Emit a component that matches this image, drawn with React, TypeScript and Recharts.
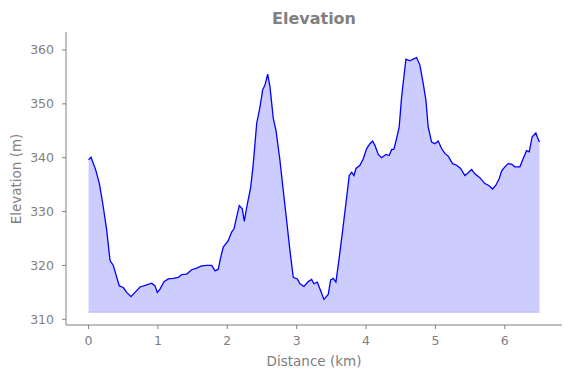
import React from 'react';
import { AreaChart, Area, XAxis, YAxis, ReferenceLine } from 'recharts';

const distanceKm = [
  0, 0.036, 0.104, 0.156, 0.205, 0.262, 0.31, 0.357, 0.406, 0.444, 0.501, 0.55, 0.612, 0.67, 0.742,
  0.839, 0.911, 0.958, 0.991, 1.03, 1.088, 1.15, 1.222, 1.294, 1.343, 1.415, 1.487, 1.559, 1.631,
  1.703, 1.775, 1.823, 1.87, 1.905, 1.942, 2.014, 2.063, 2.097, 2.135, 2.173, 2.216, 2.245, 2.28,
  2.337, 2.375, 2.424, 2.471, 2.51, 2.543, 2.582, 2.615, 2.663, 2.702, 2.759, 2.807, 2.856, 2.903,
  2.951, 3.009, 3.048, 3.105, 3.167, 3.216, 3.249, 3.297, 3.346, 3.393, 3.455, 3.49, 3.527, 3.566,
  3.614, 3.663, 3.71, 3.758, 3.793, 3.826, 3.855, 3.912, 3.96, 4.009, 4.056, 4.095, 4.128, 4.176,
  4.225, 4.287, 4.334, 4.369, 4.402, 4.441, 4.478, 4.513, 4.575, 4.633, 4.68, 4.729, 4.777, 4.824,
  4.863, 4.896, 4.945, 4.993, 5.04, 5.089, 5.137, 5.184, 5.248, 5.305, 5.363, 5.425, 5.473, 5.522,
  5.569, 5.641, 5.713, 5.775, 5.824, 5.872, 5.919, 5.954, 6.001, 6.049, 6.098, 6.146, 6.218, 6.265,
  6.314, 6.352, 6.395, 6.448, 6.473, 6.5,
];

const elevationM = [
  339.6, 340.1, 337.7, 335.2, 331.5, 326.5, 320.9, 320, 317.8, 316.2, 315.9, 315, 314.2, 315, 316,
  316.4, 316.7, 316.2, 315, 315.6, 317, 317.5, 317.6, 317.8, 318.3, 318.4, 319.2, 319.5, 319.9,
  320, 320, 319, 319.3, 321.5, 323.4, 324.6, 326.2, 326.8, 329, 331.1, 330.5, 328.2, 330.8,
  334.5, 338.9, 346.4, 349.4, 352.6, 353.5, 355.5, 353.2, 347.3, 345.1, 339.5, 333.9, 328.3, 322.8,
  317.8, 317.5, 316.6, 316.1, 317, 317.4, 316.6, 316.9, 315.3, 313.7, 314.6, 317.3, 317.6, 316.9,
  321.5, 326.5, 331.5, 336.7, 337.3, 336.7, 338, 338.6, 339.8, 341.7, 342.6, 343.1, 342.3, 340.6,
  340, 340.6, 340.4, 341.5, 341.6, 343.6, 345.7, 351.3, 358.3, 358, 358.3, 358.6, 357.2, 353.8,
  350.7, 345.7, 342.9, 342.6, 343.1, 341.7, 340.8, 340.3, 338.9, 338.6, 338, 336.7, 337.2, 337.8,
  337, 336.3, 335.2, 334.8, 334.2, 334.9, 336.1, 337.5, 338.3, 338.9, 338.8, 338.3, 338.3, 339.8,
  341.3, 341.1, 343.9, 344.6, 343.7, 342.9,
];

const xTicks = [0, 1, 2, 3, 4, 5, 6];
const yTicks = [310, 320, 330, 340, 350, 360];
const fillBase = 311.3;

const data = distanceKm.map((d, i) => ({ d, elev: elevationM[i] }));

const GRAY = '#808080';
const FONT = '"DejaVu Sans", sans-serif';

export default function App() {
  const W = 571;
  const H = 378;
  return (
    <div style={{ position: 'absolute', left: 0, top: 0, width: W, height: H, background: '#fff' }}>
      <AreaChart width={W} height={H} data={data} margin={{ top: 32, right: 9, left: 0, bottom: 0 }}>
        <XAxis
          dataKey="d"
          type="number"
          domain={[-0.325, 6.825]}
          ticks={xTicks}
          allowDataOverflow
          height={53}
          stroke={GRAY}
          tickSize={4}
          tickMargin={7}
          tick={{ fill: GRAY, fontSize: 12.5, fontFamily: FONT }}
          axisLine={{ stroke: GRAY }}
          tickLine={{ stroke: GRAY }}
        />
        <YAxis
          type="number"
          domain={[308.94, 363.34]}
          ticks={yTicks}
          allowDataOverflow
          width={66}
          stroke={GRAY}
          tickSize={4}
          tickMargin={8}
          tick={{ fill: GRAY, fontSize: 12.5, fontFamily: FONT }}
          axisLine={{ stroke: GRAY }}
          tickLine={{ stroke: GRAY }}
        />
        <Area
          type="linear"
          dataKey="elev"
          baseValue={fillBase}
          stroke="#0000ff"
          strokeWidth={1.3}
          fill="#0000ff"
          fillOpacity={0.2}
          isAnimationActive={false}
          dot={false}
          activeDot={false}
        />
        <ReferenceLine
          segment={[{ x: 0, y: fillBase }, { x: 6.5, y: fillBase }]}
          stroke="#0000ff"
          strokeOpacity={0.2}
          strokeWidth={1}
        />
      </AreaChart>
      <svg
        width={W}
        height={H}
        style={{ position: 'absolute', left: 0, top: 0, pointerEvents: 'none' }}
      >
        <text x={314} y={24} textAnchor="middle" fill={GRAY} fontFamily={FONT} fontSize={16} fontWeight="bold">
          Elevation
        </text>
        <text x={314} y={366} textAnchor="middle" fill={GRAY} fontFamily={FONT} fontSize={13.5}>
          Distance (km)
        </text>
        <text
          x={0}
          y={0}
          transform="translate(21,179) rotate(-90)"
          textAnchor="middle"
          fill={GRAY}
          fontFamily={FONT}
          fontSize={13.5}
        >
          Elevation (m)
        </text>
      </svg>
    </div>
  );
}
